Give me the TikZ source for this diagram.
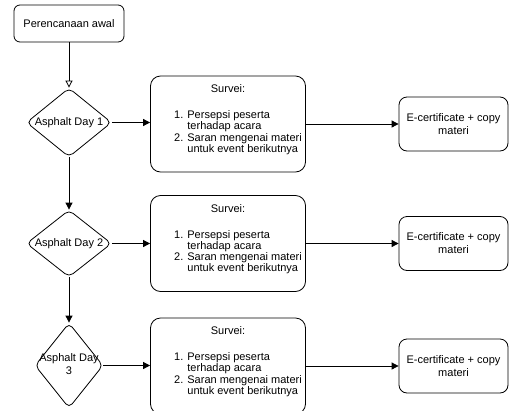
\documentclass[tikz,border=0pt]{standalone}
\usepackage{fontspec}
\setmainfont{Liberation Sans}
\usetikzlibrary{arrows.meta,shapes.geometric}

% text of a decision, kept out of the diamond's size
\newcommand\dlabel[1]{\makebox[0pt]{\begin{tabular}{@{}c@{}}#1\end{tabular}}}
% text of a survey box
\newcommand\surveytext{%
  \hspace*{20pt}\begin{tabular}{@{}r@{\hspace{4pt}}l@{}}
    \multicolumn{2}{c}{Survei:\hspace*{20pt}}\\[15pt]
    1. & Persepsi peserta\\
       & terhadap acara\\
    2. & Saran mengenai materi\\
       & untuk event berikutnya\\[8pt]
  \end{tabular}}

\begin{document}
\begin{tikzpicture}[x=1pt, y=-1pt, >={Triangle[length=7pt, width=7pt]},
  line width=0.8pt, font=\fontsize{11}{13}\selectfont,
  box/.style={draw, rounded corners=6pt, align=center, inner sep=0pt},
  decision/.style={diamond, draw, rounded corners=5pt, inner sep=0pt,
                   font=\fontsize{11}{13.5}\selectfont}]
% 0. Frame
\useasboundingbox (0,0) rectangle (509,410);

% 1. Start
\node[box, minimum width=110pt, minimum height=37pt] (start) at (69,23.5) {Perencanaan awal};

% 2. Rows: day, survey, certificate
\foreach \i/\y/\dy/\dw/\dh/\txt in {1/124/122.5/85/69/{Asphalt Day 1},
                                   2/243.5/243.5/85/67/{Asphalt Day 2},
                                   3/366/365.5/68/85/{Asphalt Day\\3}}{
  \node[decision, minimum width=\dw pt, minimum height=\dh pt] (day-\i) at (69,\dy) {\dlabel{\txt}};
  \node[box, rounded corners=10pt, minimum width=155pt, minimum height=96pt,
        font=\fontsize{11}{10.5}\selectfont] (survei-\i) at (228,\y) {\surveytext};
  \node[box, rounded corners=8pt, minimum width=109pt, minimum height=54pt] (cert-\i) at (453.5,\y)
    {E-certificate + copy\\materi};
  % 2.1. and the arrows of that row
  \draw[->] (day-\i.east) -- (day-\i.east -| survei-\i.west);
  \draw[->] (survei-\i) -- (cert-\i);
}

% 3. Down the days
\draw[-{Triangle[open, length=7pt, width=7pt]}] (start) -- (day-1);
\draw[->] (day-1) -- (day-2);
\draw[->] (day-2) -- (day-3);
\end{tikzpicture}
\end{document}
